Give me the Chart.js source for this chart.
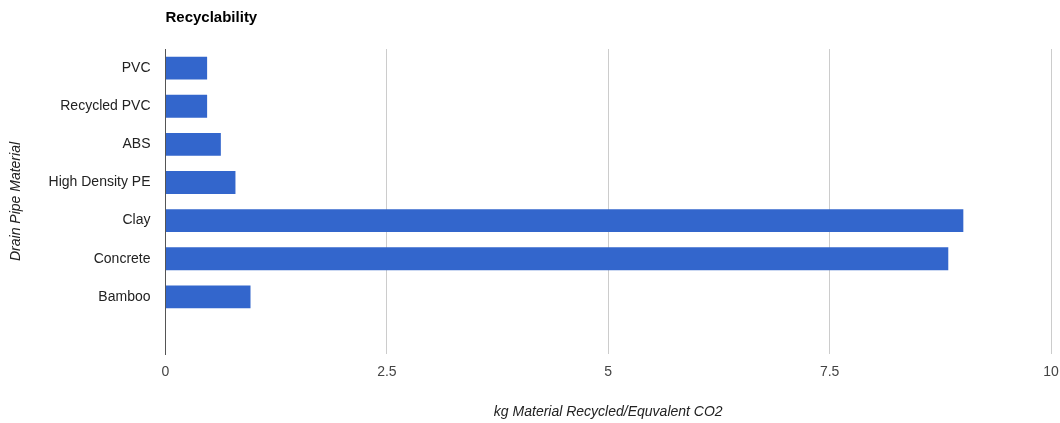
<!DOCTYPE html>
<html>
<head>
<meta charset="utf-8">
<script src="https://cdn.jsdelivr.net/npm/chart.js@4/dist/chart.umd.min.js"></script>
<style>
  html, body { margin: 0; padding: 0; background: #fff; }
  #wrap { width: 1060px; height: 423px; }
</style>
</head>
<body>
<div id="wrap"><canvas id="chart" width="1060" height="423"></canvas></div>
<script>
const chartTitle = "Recyclability";
const materials = ["PVC", "Recycled PVC", "ABS", "High Density PE", "Clay", "Concrete", "Bamboo", ""];
const recycled = [0.47, 0.47, 0.625, 0.79, 9.01, 8.84, 0.96, null];
const xTicks = [0, 2.5, 5, 7.5, 10];
const xTitle = "kg Material Recycled/Equvalent CO2";
const yTitle = "Drain Pipe Material";

const FONT = "Arial, 'Liberation Sans', sans-serif";

// title sits above the plot, left-aligned with the axis
const titlePlugin = {
  id: "leftTitle",
  afterDraw(chart) {
    const { ctx, chartArea } = chart;
    ctx.save();
    ctx.font = "bold 15px " + FONT;
    ctx.fillStyle = "#000";
    ctx.textBaseline = "middle";
    ctx.fillText(chartTitle, chartArea.left, 18);
    ctx.restore();
  },
};

new Chart(document.getElementById("chart"), {
  type: "bar",
  data: {
    labels: materials,
    datasets: [{
      data: recycled,
      backgroundColor: "#3366cc",
      borderWidth: 0,
      categoryPercentage: 1,
      barPercentage: 0.6,
    }],
  },
  options: {
    indexAxis: "y",
    responsive: false,
    animation: false,
    layout: { padding: { top: 49, right: 9, left: 0, bottom: 0 } },
    plugins: {
      legend: { display: false },
      tooltip: { enabled: false },
    },
    scales: {
      x: {
        min: 0,
        max: 10,
        afterBuildTicks: (axis) => { axis.ticks = xTicks.map((v) => ({ value: v })); },
        afterFit: (axis) => {
          axis.height = 69;
          axis.paddingLeft = 0;
          axis.paddingRight = 0;
        },
        grid: {
          color: (c) => (c.tick && c.tick.value === 0 ? "rgba(0,0,0,0)" : "#cccccc"),
          drawTicks: false,
        },
        border: { display: false },
        ticks: {
          color: "#444",
          font: { family: FONT, size: 14 },
          padding: 10,
          maxRotation: 0,
        },
        title: {
          display: true,
          text: xTitle,
          color: "#222",
          font: { family: FONT, size: 14, style: "italic" },
          padding: { top: 0, bottom: 2 },
        },
      },
      y: {
        afterFit: (axis) => { axis.width = 165.5; },
        grid: { display: false, drawTicks: false },
        border: { display: true, color: "#555", width: 1 },
        ticks: {
          color: "#222",
          font: { family: FONT, size: 14 },
          padding: 15,
        },
        title: {
          display: true,
          text: yTitle,
          color: "#222",
          font: { family: FONT, size: 14, style: "italic" },
          padding: { top: 8, bottom: 0 },
        },
      },
    },
  },
  plugins: [titlePlugin],
});
</script>
</body>
</html>
